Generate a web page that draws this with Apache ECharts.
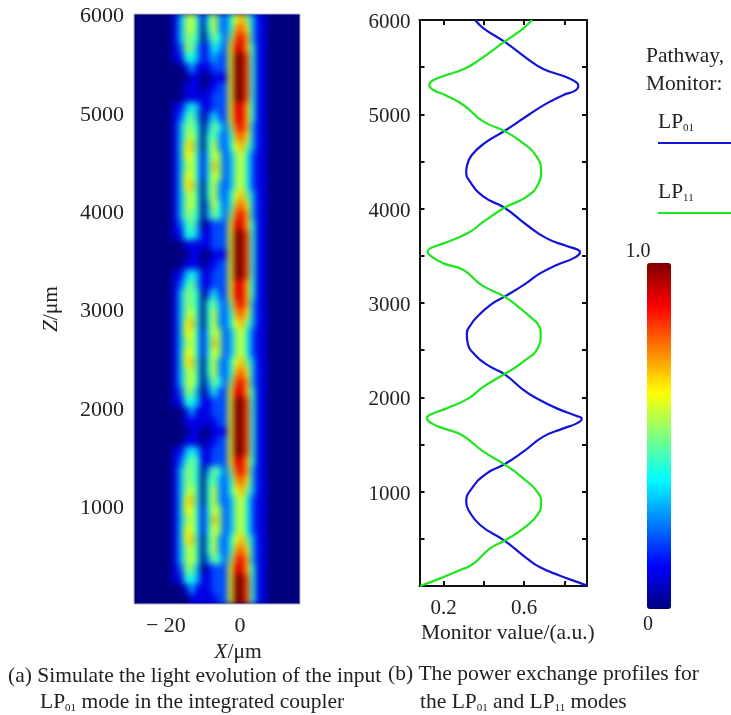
<!DOCTYPE html>
<html><head><meta charset="utf-8">
<style>html,body{margin:0;padding:0;background:#fff}#c{width:731px;height:715px}</style>
<script src="https://cdn.jsdelivr.net/npm/echarts@6/dist/echarts.min.js"></script>
</head><body><div id="c"></div>
<script>
// Light intensity, top row first; one character per cell, 0-9 and a = 0.0-1.0
const intensityRows = [
"0000000 1 3564 1 463 2467531 1000000",
"0000000 1 3564 0 463 2478631 1000000",
"0000000 1 3554 0 354 2589731 1000000",
"0000000 1 2553 1 243 2699741 1000000",
"0000000 1 1443 1 232 26aa841 1000000",
"0000000 0 0131 1 122 26aa841 1000000",
"0000000 0 0011 0 011 16aa841 1000000",
"0000000 0 0111 0 112 26aa841 1000000",
"0000000 0 0111 1 122 26aa841 1000000",
"0000000 1 1343 1 122 2699741 1000000",
"0000000 1 2453 0 242 2699741 1000000",
"0000000 1 3554 0 354 2589731 1000000",
"0000000 1 3564 0 453 2478631 1000000",
"0000000 1 3674 0 463 2467531 1000000",
"0000000 1 3664 1 465 2356421 1000000",
"0000000 1 3564 1 475 2356421 1000000",
"0000000 1 3664 1 465 2356421 1000000",
"0000000 1 3674 0 463 2356421 1000000",
"0000000 1 3564 0 463 2467531 1000000",
"0000000 1 3564 0 364 2478631 1000000",
"0000000 1 3554 0 354 2589731 1000000",
"0000000 1 2453 0 122 2699741 1000000",
"0000000 1 1443 1 122 26aa841 1000000",
"0000000 0 0111 1 122 26aa841 1000000",
"0000000 0 0011 0 011 16aa841 1000000",
"0000000 0 0111 0 112 26aa841 1000000",
"0000000 1 1343 1 122 26aa841 1000000",
"0000000 1 2453 1 122 2699741 1000000",
"0000000 1 3554 0 242 2699741 1000000",
"0000000 1 3554 0 453 2589731 1000000",
"0000000 1 3564 0 463 2478631 1000000",
"0000000 1 3674 0 463 2467531 1000000",
"0000000 1 3664 1 465 2356421 1000000",
"0000000 1 3564 1 475 2356421 1000000",
"0000000 1 3664 1 465 2356421 1000000",
"0000000 1 3674 0 463 2467531 1000000",
"0000000 1 3564 0 463 2478631 1000000",
"0000000 1 3564 0 354 2589731 1000000",
"0000000 1 2553 0 242 2699741 1000000",
"0000000 1 1443 1 122 26aa841 1000000",
"0000000 0 0131 1 122 26aa841 1000000",
"0000000 0 0111 1 112 26aa841 1000000",
"0000000 0 0011 0 011 16aa841 1000000",
"0000000 0 0111 0 112 26aa841 1000000",
"0000000 1 1343 1 122 26aa841 1000000",
"0000000 1 2454 1 122 2699741 1000000",
"0000000 1 3554 0 354 2589731 1000000",
"0000000 1 3554 0 453 2478631 1000000",
"0000000 1 3564 0 463 2467531 1000000",
"0000000 1 3674 0 463 2356421 1000000",
"0000000 1 3664 1 465 2356421 1000000",
"0000000 1 3564 1 475 2356421 1000000",
"0000000 1 3664 1 465 2356421 1000000",
"0000000 1 3674 0 463 2467531 1000000",
"0000000 1 3564 0 463 2478631 1000000",
"0000000 1 3564 0 354 2589731 1000000",
"0000000 1 2553 0 122 2699741 1000000",
"0000000 1 1443 1 122 26aa841 1000000",
"0000000 0 0131 1 122 26aa841 1000000",
"0000000 0 0011 1 112 26aa841 1000000"
];
const xTickLabels = [-20, 0];
const zTickLabels = [1000, 2000, 3000, 4000, 5000, 6000];
const monitorTickLabels = [0.2, 0.6];
const monitorTicks = [0.2, 0.4, 0.6, 0.8];
const colorbarLabels = ["1.0", "0"];
const lp01Z = [6000,5912,5770,5594,5480,5406,5336,5300,5251,5205,5116,4993,4823,4710,4569,4445,4392,4286,4127,4010,3827,3685,3604,3561,3537,3484,3402,3314,3190,3067,2978,2830,2785,2679,2590,2449,2325,2247,2078,1989,1883,1802,1774,1724,1671,1583,1424,1290,1194,1035,894,806,647,480,293,198,109,10,0];
const lp01Value = [.356,.398,.502,.613,.695,.795,.861,.869,.853,.795,.712,.621,.502,.414,.340,.315,.312,.331,.398,.502,.613,.712,.811,.869,.877,.853,.762,.679,.596,.502,.431,.356,.340,.315,.318,.356,.431,.502,.596,.662,.762,.861,.886,.861,.795,.695,.596,.502,.414,.340,.312,.323,.381,.502,.613,.679,.778,.905,.912];
const lp11Z = [6000,5912,5770,5583,5477,5406,5353,5311,5258,5205,5099,4922,4823,4693,4551,4392,4268,4127,4010,3862,3745,3632,3579,3544,3491,3420,3349,3190,3067,2943,2830,2767,2661,2537,2378,2247,2113,1989,1883,1823,1777,1724,1671,1601,1424,1290,1141,982,883,770,611,480,399,223,177,81,0];
const lp11Value = [.638,.596,.502,.381,.298,.199,.141,.128,.149,.207,.298,.398,.502,.596,.662,.684,.671,.613,.502,.398,.323,.199,.133,.120,.141,.199,.298,.389,.502,.580,.642,.671,.682,.671,.596,.502,.398,.323,.216,.141,.116,.141,.199,.290,.398,.502,.596,.671,.684,.671,.596,.502,.431,.340,.290,.183,.083];

const serif = '"Liberation Serif","Times New Roman",serif';
const ink = '#222';
const rowsClean = intensityRows.map(s => s.replace(/ /g, ''));
const heatData = [];
rowsClean.forEach((s, r) => { for (let c = 0; c < s.length; c++) heatData.push([c, r, s[c] === 'a' ? 1 : Number(s[c]) / 10]); });
const pair = (xs, zs) => xs.map((v, i) => [v, zs[i]]);
const subRich = {
  n: {fontFamily: serif, fontSize: 21.5, color: ink},
  s: {fontFamily: serif, fontSize: 11, color: ink, padding: [12, 0, 0, 0]},
  i: {fontFamily: serif, fontSize: 21.5, color: ink, fontStyle: 'italic'}
};
const label = (x, y, text, extra) => ({type: 'text', zlevel: 1, x, y, style: Object.assign({text, fontFamily: serif, fontSize: 21.5, fill: ink, rich: subRich, verticalAlign: 'middle'}, extra || {})});
const legendLine = (y, color) => ({type: 'line', zlevel: 1, shape: {x1: 658, y1: y, x2: 731, y2: y}, style: {stroke: color, lineWidth: 2}});
const blue = '#1414d8', green = '#1ee61e';
const hiddenCat = (n, gridIndex, extra) => Object.assign({type: 'category', gridIndex, show: false, zlevel: 1, data: Array.from({length: n}, (_, i) => i)}, extra || {});
const frameAxis = {axisLine: {show: true, onZero: false, lineStyle: {color: '#111', width: 2}}, axisTick: {show: true, inside: true, length: 5, lineStyle: {color: '#111', width: 2}}, splitLine: {show: false}};
const lowered = size => ({a: {fontFamily: serif, fontSize: size, color: ink, padding: [5, 0, 0, 0]}});

const chart = echarts.init(document.getElementById('c'), null, {renderer: 'canvas'});
chart.setOption({
  animation: false,
  backgroundColor: 'transparent',
  grid: [
    {left: 134, top: 14, width: 166, height: 590, zlevel: 1},
    {left: 419.5, top: 20, width: 167.5, height: 566, zlevel: 1}
  ],
  xAxis: [
    hiddenCat(rowsClean[0].length, 0),
    {type: 'value', gridIndex: 0, zlevel: 1, min: -28.6, max: 16.2, position: 'bottom', axisLine: {show: false}, axisTick: {show: false}, splitLine: {show: false},
     axisLabel: {customValues: xTickLabels, margin: 11, fontFamily: serif, fontSize: 22, color: ink, formatter: v => String(v).replace('-', '\u2212 ')}},
    Object.assign({type: 'value', gridIndex: 1, zlevel: 1, min: 0.08, max: 0.912, position: 'bottom',
      axisLabel: {customValues: monitorTickLabels, margin: 12, fontFamily: serif, fontSize: 21, color: ink, formatter: v => v.toFixed(1)}}, frameAxis,
      {axisTick: Object.assign({}, frameAxis.axisTick, {customValues: monitorTicks})}),
    Object.assign({type: 'value', gridIndex: 1, zlevel: 1, min: 0.08, max: 0.912, position: 'top', axisLabel: {show: false}}, frameAxis,
      {axisTick: Object.assign({}, frameAxis.axisTick, {customValues: monitorTicks})})
  ],
  yAxis: [
    hiddenCat(rowsClean.length, 0, {inverse: true}),
    {type: 'value', gridIndex: 0, zlevel: 1, min: 0, max: 6000, position: 'left', axisLine: {show: false}, axisTick: {show: false}, splitLine: {show: false},
     name: '{i|Z}{n|/μm}', nameLocation: 'middle', nameGap: 72, nameRotate: 90, nameTextStyle: {rich: subRich},
     axisLabel: {customValues: zTickLabels, margin: 10, rich: lowered(22), formatter: v => '{a|' + v + '}'}},
    Object.assign({type: 'value', gridIndex: 1, zlevel: 1, min: 0, max: 6000, interval: 500, position: 'left',
      axisLabel: {customValues: zTickLabels, margin: 9, rich: lowered(21), formatter: v => '{a|' + v + '}'}}, frameAxis),
    Object.assign({type: 'value', gridIndex: 1, zlevel: 1, min: 0, max: 6000, interval: 500, position: 'right', axisLabel: {show: false}}, frameAxis)
  ],
  visualMap: {
    type: 'continuous', seriesIndex: 0, min: 0, max: 1, calculable: false, hoverLink: false, zlevel: 1,
    left: 632, top: 248, itemWidth: 24, itemHeight: 346, text: null, showLabel: false,
    inRange: {color: ['#00007f', '#0000ff', '#007fff', '#00ffff', '#7fff7f', '#ffff00', '#ff7f00', '#ff0000', '#7f0000']}
  },
  series: [
    {type: 'heatmap', xAxisIndex: 0, yAxisIndex: 0, data: heatData, progressive: 0, emphasis: {disabled: true}},
    {type: 'line', name: 'LP01', xAxisIndex: 2, yAxisIndex: 2, zlevel: 1, data: pair(lp01Value, lp01Z), showSymbol: false, smooth: 0.5, lineStyle: {color: blue, width: 2.2}},
    {type: 'line', name: 'LP11', xAxisIndex: 2, yAxisIndex: 2, zlevel: 1, data: pair(lp11Value, lp11Z), showSymbol: false, smooth: 0.5, lineStyle: {color: green, width: 2.2}}
  ],
  graphic: {elements: [
    {type: 'rect', zlevel: 1, shape: {x: 134, y: 14, width: 166, height: 590}, style: {fill: 'none', stroke: '#b4b4c0', lineWidth: 1}},
    label(238, 652, '{i|X}{n|/μm}', {align: 'center'}),
    label(421, 633, 'Monitor value/(a.u.)'),
    label(646, 56, 'Pathway,'),
    label(646, 84, 'Monitor:'),
    label(658, 122, '{n|LP}{s|01}'),
    legendLine(143, blue),
    label(658, 192, '{n|LP}{s|11}'),
    legendLine(213, green),
    label(638, 252, colorbarLabels[0], {fontSize: 20, align: 'center'}),
    label(648, 625, colorbarLabels[1], {fontSize: 20, align: 'center'}),
    label(8, 676, '(a) Simulate the light evolution of the input'),
    label(40, 702, '{n|LP}{s|01}{n| mode in the integrated coupler}'),
    label(388, 674, '(b) The power exchange profiles for'),
    label(420, 702, '{n|the LP}{s|01}{n| and LP}{s|11}{n| modes}')
  ]}
});
// The field is read cell by cell; soften its cell edges as in the smooth reference picture.
const heatCanvas = document.querySelector('#c canvas[data-zr-dom-id="zr_0"]');
if (heatCanvas) {
  heatCanvas.style.background = '#00007f';
  heatCanvas.style.filter = 'blur(3px)';
  heatCanvas.style.clipPath = 'inset(14px 431px 111px 134px)';
}
</script></body></html>
